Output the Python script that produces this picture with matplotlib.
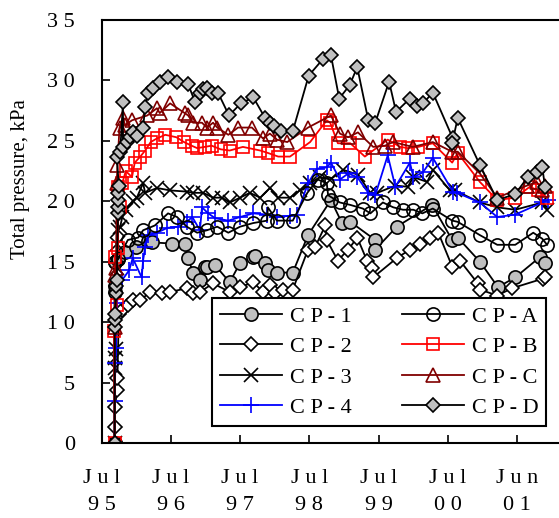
import matplotlib
matplotlib.use("Agg")
import matplotlib.pyplot as plt
from matplotlib.ticker import FixedLocator, FixedFormatter

plt.rcParams["font.family"] = ["Liberation Serif", "DejaVu Serif"]

# Monitoring record, total pressure at each cell (kPa) against decimal year
cp1_year = [1995.69, 1995.69, 1995.70, 1995.74, 1995.84, 1996.00, 1996.17, 1996.23, 1996.52, 1996.70,
            1996.75, 1996.82, 1996.92, 1996.99, 1997.02, 1997.14, 1997.35, 1997.50, 1997.69, 1997.72,
            1997.86, 1997.90, 1998.03, 1998.26, 1998.48, 1998.81, 1998.97, 1999.09, 1999.45, 1999.45,
            1999.76, 2000.27, 2000.56, 2000.64, 2000.96, 2001.22, 2001.47, 2001.83, 2001.90]
cp1_kpa = [0.0, 13.0, 15.0, 15.2, 15.8, 16.2, 16.7, 16.6, 16.5, 16.5,
           15.3, 14.1, 13.5, 14.6, 14.6, 14.7, 13.3, 14.9, 15.4, 15.5,
           14.9, 14.3, 14.1, 14.1, 17.2, 20.1, 18.2, 18.3, 16.8, 16.0,
           17.9, 19.7, 16.8, 17.0, 15.0, 12.9, 13.7, 15.4, 14.9]

cp2_year = [1995.69, 1995.69, 1995.70, 1995.72, 1995.73, 1995.75, 1995.80, 1995.88, 1995.96, 1996.06,
            1996.20, 1996.37, 1996.49, 1996.73, 1996.82, 1996.92, 1997.11, 1997.35, 1997.50, 1997.69,
            1997.83, 1997.93, 1998.00, 1998.12, 1998.26, 1998.48, 1998.58, 1998.73, 1998.75, 1998.91,
            1999.06, 1999.19, 1999.33, 1999.40, 1999.42, 1999.76, 1999.95, 2000.10, 2000.24, 2000.36,
            2000.56, 2000.67, 2000.93, 2000.96, 2001.21, 2001.42, 2001.87, 2001.90]
cp2_kpa = [0.0, 1.3, 3.0, 4.4, 5.4, 10.7, 11.0, 11.4, 11.8, 11.8,
           12.5, 12.4, 12.5, 12.8, 12.4, 12.5, 13.2, 12.5, 12.9, 13.3,
           12.5, 13.1, 12.4, 12.7, 12.7, 16.0, 16.2, 18.0, 16.8, 15.1,
           16.0, 17.0, 15.1, 14.5, 13.7, 15.3, 16.0, 16.5, 17.0, 17.4,
           14.6, 15.1, 13.2, 12.7, 12.2, 12.8, 13.6, 13.7]

cp3_year = [1995.69, 1995.69, 1995.70, 1995.71, 1995.72, 1995.72, 1995.74, 1995.77, 1995.80, 1995.85,
            1995.95, 1996.01, 1996.10, 1996.13, 1996.30, 1996.49, 1996.73, 1996.82, 1996.97, 1997.11,
            1997.24, 1997.35, 1997.50, 1997.64, 1997.79, 1997.93, 1998.05, 1998.22, 1998.36, 1998.51,
            1998.65, 1998.80, 1998.99, 1999.20, 1999.38, 1999.48, 1999.74, 1999.92, 2000.00, 2000.20,
            2000.28, 2000.53, 2000.60, 2000.96, 2001.21, 2001.47, 2001.86, 2001.93]
cp3_kpa = [0.0, 6.2, 7.0, 7.8, 14.5, 16.5, 17.6, 17.9, 18.7, 19.3,
           20.0, 20.3, 21.5, 20.7, 21.1, 20.9, 20.8, 20.7, 20.7, 20.3,
           20.3, 19.9, 20.3, 20.7, 20.3, 21.1, 20.3, 20.3, 20.9, 21.5,
           22.0, 21.8, 22.6, 22.2, 20.7, 20.7, 21.3, 21.2, 22.0, 21.6,
           22.6, 20.9, 20.9, 19.9, 19.5, 19.3, 19.9, 19.3]

cp4_year = [1995.69, 1995.69, 1995.70, 1995.71, 1995.72, 1995.80, 1995.90, 1995.95, 1996.08, 1996.10,
            1996.13, 1996.17, 1996.30, 1996.45, 1996.60, 1996.73, 1996.81, 1996.92, 1996.95, 1997.04,
            1997.14, 1997.33, 1997.50, 1997.69, 1997.89, 1998.03, 1998.22, 1998.32, 1998.48, 1998.61,
            1998.75, 1998.81, 1998.94, 1999.06, 1999.19, 1999.35, 1999.45, 1999.63, 1999.74, 1999.95,
            2000.00, 2000.14, 2000.28, 2000.57, 2000.63, 2000.96, 2001.21, 2001.47, 2001.86, 2001.94]
cp4_kpa = [0.0, 3.5, 6.6, 7.9, 11.6, 13.5, 14.3, 15.3, 13.7, 15.1,
           16.2, 17.2, 17.4, 17.8, 17.9, 18.3, 18.7, 17.6, 19.5, 19.0,
           18.6, 18.4, 18.7, 19.0, 18.9, 18.7, 18.8, 18.9, 21.5, 22.7,
           22.8, 23.2, 21.8, 22.3, 22.0, 20.7, 20.5, 23.8, 21.2, 23.2,
           22.0, 22.4, 23.6, 20.8, 20.7, 19.9, 18.7, 18.9, 19.9, 20.1]

cpa_year = [1995.69, 1995.69, 1995.70, 1995.74, 1995.88, 1996.03, 1996.10, 1996.27, 1996.46, 1996.59,
            1996.73, 1996.88, 1997.02, 1997.17, 1997.33, 1997.50, 1997.69, 1997.89, 1997.90, 1998.03,
            1998.26, 1998.47, 1998.62, 1998.75, 1998.77, 1998.94, 1999.09, 1999.27, 1999.38, 1999.56,
            1999.71, 1999.85, 2000.00, 2000.13, 2000.28, 2000.56, 2000.64, 2000.96, 2001.21, 2001.47,
            2001.73, 2001.86, 2001.93]
cpa_kpa = [0.0, 12.5, 15.0, 15.2, 16.8, 17.0, 17.6, 18.0, 19.0, 18.7,
           17.9, 17.4, 17.6, 17.9, 17.4, 17.9, 18.2, 18.4, 19.5, 18.4,
           18.4, 20.7, 21.8, 21.5, 20.5, 19.9, 19.7, 19.4, 19.0, 19.9,
           19.5, 19.3, 19.3, 19.0, 19.4, 18.4, 18.3, 17.2, 16.4, 16.4,
           17.4, 16.9, 16.4]

cpb_year = [1995.69, 1995.68, 1995.72, 1995.69, 1995.74, 1995.74, 1995.76, 1995.80, 1995.85, 1995.94,
            1995.98, 1996.06, 1996.13, 1996.21, 1996.30, 1996.42, 1996.58, 1996.69, 1996.80, 1996.88,
            1996.99, 1997.09, 1997.22, 1997.35, 1997.54, 1997.79, 1997.90, 1998.05, 1998.22, 1998.51,
            1998.75, 1998.80, 1998.91, 1999.09, 1999.30, 1999.63, 1999.81, 1999.92, 2000.07, 2000.28,
            2000.56, 2000.64, 2000.96, 2001.21, 2001.47, 2001.68, 2001.80, 2001.93]
cpb_kpa = [0.0, 9.3, 11.4, 15.4, 16.1, 21.2, 19.5, 21.5, 22.5, 22.0,
           23.2, 23.7, 24.2, 24.9, 25.2, 25.5, 25.3, 24.9, 24.6, 24.4,
           24.5, 24.6, 24.3, 24.2, 24.5, 24.2, 24.0, 23.7, 23.7, 24.9,
           26.7, 26.5, 24.8, 24.8, 23.7, 25.1, 24.5, 24.4, 24.5, 24.8,
           23.2, 24.0, 21.6, 20.1, 20.3, 21.2, 20.9, 20.3]

cpc_year = [1995.69, 1995.69, 1995.70, 1995.71, 1995.72, 1995.73, 1995.76, 1995.81, 1995.84, 1995.94,
            1996.16, 1996.30, 1996.34, 1996.49, 1996.70, 1996.75, 1996.82, 1996.95, 1997.02, 1997.11,
            1997.17, 1997.33, 1997.47, 1997.67, 1997.83, 1997.93, 1998.03, 1998.18, 1998.48, 1998.81,
            1998.94, 1999.06, 1999.20, 1999.42, 1999.59, 1999.71, 1999.99, 2000.28, 2000.56, 2000.64,
            2000.96, 2001.21, 2001.64, 2001.78, 2001.86, 2001.90]
cpc_kpa = [0.0, 9.6, 13.9, 14.5, 21.5, 23.0, 26.1, 26.9, 26.3, 26.7,
           27.1, 27.7, 27.3, 28.1, 27.3, 27.1, 26.5, 26.5, 26.1, 26.5,
           26.1, 25.5, 26.1, 26.1, 25.2, 25.6, 25.1, 24.9, 26.1, 27.1,
           25.6, 25.3, 25.7, 24.5, 24.6, 24.9, 24.5, 24.9, 24.1, 24.1,
           22.3, 20.3, 21.3, 21.6, 20.9, 21.3]

cpd_year = [1995.69, 1995.69, 1995.70, 1995.70, 1995.71, 1995.71, 1995.72, 1995.74, 1995.74, 1995.74,
            1995.74, 1995.75, 1995.72, 1995.77, 1995.81, 1995.81, 1995.87, 1995.91, 1995.96, 1996.01,
            1996.10, 1996.13, 1996.17, 1996.24, 1996.34, 1996.46, 1996.59, 1996.75, 1996.85, 1996.92,
            1996.97, 1997.02, 1997.09, 1997.18, 1997.34, 1997.51, 1997.69, 1997.86, 1997.93, 1997.99,
            1998.09, 1998.26, 1998.49, 1998.70, 1998.81, 1998.93, 1999.08, 1999.19, 1999.35, 1999.45,
            1999.65, 1999.75, 1999.95, 2000.05, 2000.14, 2000.28, 2000.57, 2000.56, 2000.64, 2000.96,
            2001.21, 2001.47, 2001.65, 2001.78, 2001.86, 2001.90]
cpd_kpa = [0.0, 9.6, 10.2, 10.7, 12.4, 13.0, 13.5, 19.0, 19.5, 20.1,
           20.7, 21.3, 23.7, 24.1, 28.2, 24.5, 24.9, 25.3, 25.7, 25.4,
           26.1, 27.8, 29.0, 29.4, 29.9, 30.3, 29.9, 29.7, 28.2, 29.0,
           29.3, 29.4, 29.0, 29.0, 27.1, 28.1, 28.6, 26.9, 26.5, 26.2,
           25.8, 25.8, 30.4, 31.8, 32.1, 28.5, 29.6, 31.1, 26.7, 26.5,
           29.9, 27.4, 28.5, 27.9, 28.1, 29.0, 25.2, 24.8, 26.9, 23.0,
           20.1, 20.6, 22.0, 22.4, 22.8, 21.2]

tick_years = [1995.5, 1996.5, 1997.5, 1998.5, 1999.5, 2000.5, 2001.5]
tick_labels = ["J u l\n9 5", "J u l\n9 6", "J u l\n9 7", "J u l\n9 8",
               "J u l\n9 9", "J u l\n0 0", "J u n\n0 1"]
y_ticks = [0, 5, 10, 15, 20, 25, 30, 35]

GRAY = "#c0c0c0"

# label, data, marker, marker face, edge/line colour, marker size
SERIES = [
    ("C P - 1", cp1_year, cp1_kpa, "o", GRAY, "black", 9.5),
    ("C P - 2", cp2_year, cp2_kpa, "D", "white", "black", 7.5),
    ("C P - 3", cp3_year, cp3_kpa, "x", "none", "black", 9.5),
    ("C P - 4", cp4_year, cp4_kpa, "+", "none", "#0000ff", 11),
    ("C P - A", cpa_year, cpa_kpa, "o", "none", "black", 9.5),
    ("C P - B", cpb_year, cpb_kpa, "s", "none", "#ff0000", 8.5),
    ("C P - C", cpc_year, cpc_kpa, "^", "none", "#800000", 9.5),
    ("C P - D", cpd_year, cpd_kpa, "D", GRAY, "black", 7.5),
]


def main():
    fig = plt.figure(figsize=(5.59, 5.18), dpi=100)
    # the plotting area runs off the right edge of the page
    ax = fig.add_axes([101.5 / 559, 75 / 518, (570 - 101.5) / 559, 423 / 518])

    for label, xs, ys, marker, face, colour, size in SERIES:
        ax.plot(xs, ys, color=colour, lw=1.3, marker=marker, markersize=size,
                markerfacecolor=face, markeredgecolor=colour, markeredgewidth=1.2,
                label=label)

    ax.set_xlim(1995.5, 2002.26)
    ax.set_ylim(0, 35)

    ax.xaxis.set_major_locator(FixedLocator(tick_years))
    ax.xaxis.set_major_formatter(FixedFormatter(tick_labels))
    ax.yaxis.set_major_locator(FixedLocator(y_ticks))
    ax.yaxis.set_major_formatter(FixedFormatter([" ".join(str(v)) for v in y_ticks]))
    ax.tick_params(axis="both", direction="in", length=6, width=1.2, labelsize=16)
    ax.tick_params(axis="x", pad=19)
    ax.tick_params(axis="y", pad=19)
    for t in ax.get_xticklabels():
        t.set_linespacing(1.55)

    for side in ("left", "bottom", "top"):
        ax.spines[side].set_linewidth(1.5)
    ax.spines["right"].set_visible(False)

    fig.text(0.036, 0.655, "Total pressure, kPa", rotation=90,
             ha="center", va="center", fontsize=15)

    leg = ax.legend(ncol=2, loc="lower left",
                    bbox_to_anchor=(212 / 559, 92 / 518, 334 / 559, 124 / 518),
                    bbox_transform=fig.transFigure, mode="expand",
                    borderaxespad=0, fontsize=16, handlelength=2.8,
                    handletextpad=0.35, labelspacing=0.45, columnspacing=1.5,
                    fancybox=False, framealpha=1, edgecolor="black",
                    borderpad=0.35)
    leg.get_frame().set_linewidth(1.5)

    fig.savefig("out.png", dpi=100)
    plt.close(fig)


if __name__ == "__main__":
    main()
